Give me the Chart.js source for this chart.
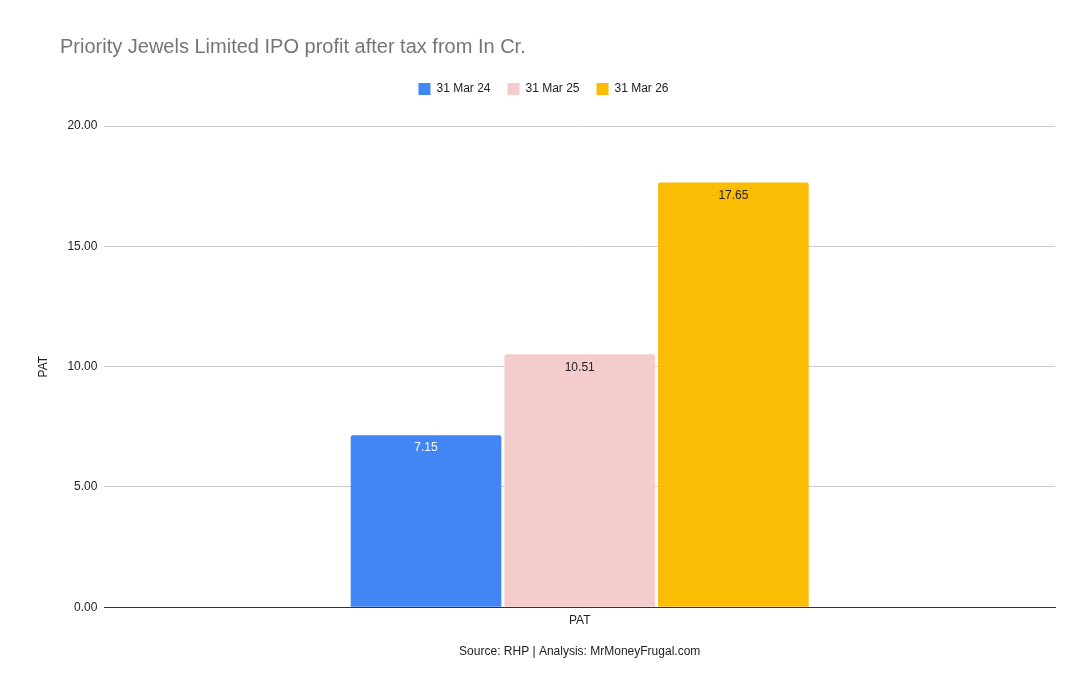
<!DOCTYPE html>
<html>
<head>
<meta charset="utf-8">
<script src="https://cdn.jsdelivr.net/npm/chart.js@4.4.0/dist/chart.umd.min.js"></script>
<style>
  html, body { margin: 0; padding: 0; background: #fff; }
  #wrap { width: 1090px; height: 694px; position: relative; }
</style>
</head>
<body>
<div id="wrap"><canvas id="pat-chart"></canvas></div>
<script>
// Chart data
const categories = ['PAT'];
const seriesNames = ['31 Mar 24', '31 Mar 25', '31 Mar 26'];
const seriesValues = [7.15, 10.51, 17.65];
const seriesColors = ['#4285f4', '#f4cccc', '#fbbc04'];
const labelColors = ['#ffffff', '#222222', '#222222'];
const yTicks = [0, 5, 10, 15, 20];

const chartTitle = 'Priority Jewels Limited IPO profit after tax from In Cr.';
const sourceText = 'Source: RHP | Analysis: MrMoneyFrugal.com';
const fontFamily = '"Liberation Sans", Arial, sans-serif';

// Title drawn at the top-left, like the sheets export
const titlePlugin = {
    id: 'leftTitle',
    afterDraw(chart) {
        const ctx = chart.ctx;
        ctx.save();
        ctx.font = '20px ' + fontFamily;
        ctx.fillStyle = '#757575';
        ctx.textAlign = 'left';
        ctx.textBaseline = 'middle';
        ctx.fillText(chartTitle, 60, 47);
        ctx.restore();
    }
};

// Value labels inside the top of each bar
const valueLabels = {
    id: 'valueLabels',
    afterDatasetsDraw(chart) {
        const ctx = chart.ctx;
        ctx.save();
        ctx.font = '12px ' + fontFamily;
        ctx.textAlign = 'center';
        ctx.textBaseline = 'middle';
        chart.data.datasets.forEach((ds, i) => {
            chart.getDatasetMeta(i).data.forEach((bar, j) => {
                ctx.fillStyle = labelColors[i];
                ctx.fillText(ds.data[j].toFixed(2), bar.x, bar.y + 13);
            });
        });
        ctx.restore();
    }
};

// Extra room under the legend
const legendSpace = {
    id: 'legendSpace',
    beforeInit(chart) {
        const fit = chart.legend.fit;
        chart.legend.fit = function () {
            fit.bind(chart.legend)();
            this.height += 21;
        };
    }
};

const ctx = document.getElementById('pat-chart').getContext('2d');
new Chart(ctx, {
    type: 'bar',
    data: {
        labels: categories,
        datasets: seriesNames.map((name, i) => ({
            label: name,
            data: [seriesValues[i]],
            backgroundColor: seriesColors[i],
            borderWidth: 0,
            borderRadius: { topLeft: 2, topRight: 2 },
            categoryPercentage: 0.485,
            barPercentage: 0.98
        }))
    },
    options: {
        responsive: true,
        maintainAspectRatio: false,
        animation: false,
        layout: {
            padding: { top: 66, left: 32, right: 35, bottom: 31 }
        },
        plugins: {
            title: { display: false },
            tooltip: { enabled: false },
            legend: {
                position: 'top',
                labels: {
                    boxWidth: 12,
                    boxHeight: 12,
                    padding: 17,
                    color: '#222',
                    font: { family: fontFamily, size: 12 }
                }
            }
        },
        scales: {
            x: {
                grid: { display: false, drawTicks: false },
                border: { display: true, color: '#333', width: 1 },
                ticks: {
                    color: '#222',
                    padding: 6,
                    font: { family: fontFamily, size: 12 }
                },
                title: {
                    display: true,
                    text: sourceText,
                    color: '#222',
                    padding: { top: 11 },
                    font: { family: fontFamily, size: 12 }
                }
            },
            y: {
                min: 0,
                max: 20,
                afterBuildTicks(axis) {
                    axis.ticks = yTicks.map(v => ({ value: v }));
                },
                grid: {
                    color: c => (c.tick && c.tick.value === 0 ? '#333' : '#cccccc'),
                    drawTicks: false
                },
                border: { display: false },
                ticks: {
                    color: '#222',
                    padding: 7,
                    font: { family: fontFamily, size: 12 },
                    callback: v => Number(v).toFixed(2)
                },
                title: {
                    display: true,
                    text: 'PAT',
                    color: '#222',
                    padding: { bottom: 10 },
                    font: { family: fontFamily, size: 12 }
                }
            }
        }
    },
    plugins: [titlePlugin, valueLabels, legendSpace]
});
</script>
</body>
</html>
